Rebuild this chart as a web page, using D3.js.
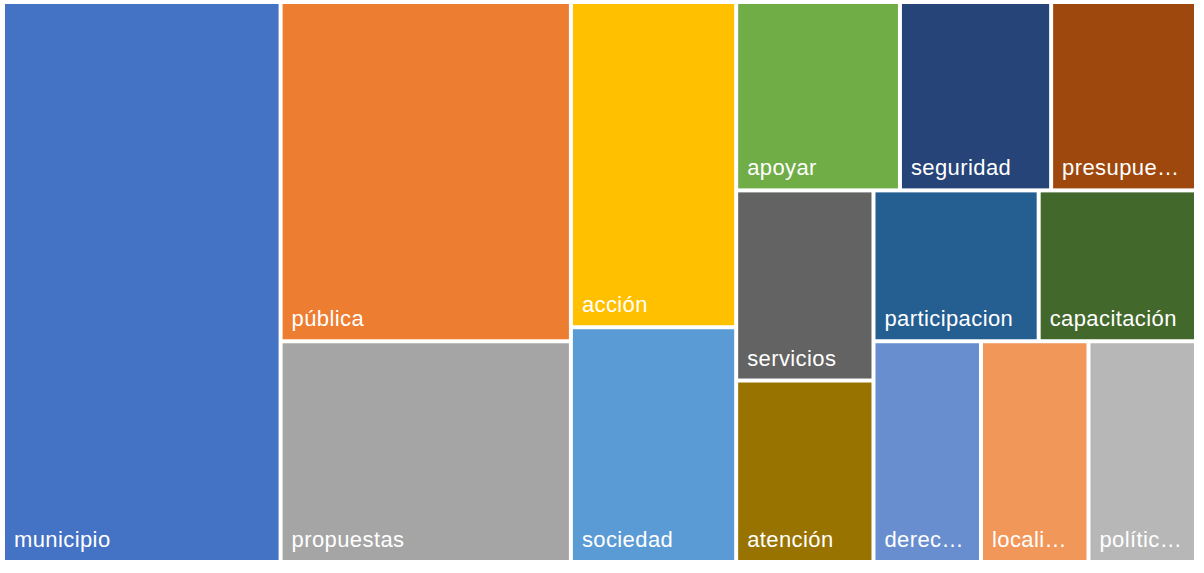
<!DOCTYPE html>
<html>
<head>
<meta charset="utf-8">
<script src="https://cdn.jsdelivr.net/npm/d3@7"></script>
<style>
  body { margin: 0; background: #fff; }
  .label { font-family: 'Liberation Sans', Arial, sans-serif; font-size: 22px; fill: #fff; letter-spacing: 0.4px; }
</style>
</head>
<body>
<div class="container"></div>
<script>
const categories = ['municipio', 'pública', 'propuestas', 'acción', 'sociedad', 'apoyar', 'seguridad', 'presupuesto',
  'servicios', 'atención', 'participacion', 'capacitación', 'derechos', 'localidad', 'políticas'];
const values = [131, 83, 54, 45.3, 32.7, 26, 24, 23, 22, 21, 21, 20, 20, 20, 20];
const colors = ['#4472C4', '#ED7D31', '#A5A5A5', '#FFC000', '#5B9BD5', '#70AD47', '#264478', '#9E480E',
  '#636363', '#997300', '#255E91', '#43682B', '#698ED0', '#F1975A', '#B7B7B7'];
// number of cells that go in each strip, in order
const strips = [1, 2, 2, 3, 2, 2, 3];

const width = 1204;
const height = 573;
const margin = { left: 5, top: 4 };
const chartWidth = 1189;
const chartHeight = 556;

// strips like squarify, last strip laid along the long side
const tileStrips = (parent, x0, y0, x1, y1) => {
  const nodes = parent.children;
  let value = parent.value;
  let i0 = 0;
  strips.forEach((n, k) => {
    const row = { children: nodes.slice(i0, i0 + n) };
    row.value = d3.sum(row.children, d => d.value);
    const dx = x1 - x0;
    const dy = y1 - y0;
    const last = k === strips.length - 1;
    const across = last ? dx >= dy : dx < dy;
    if (across) d3.treemapDice(row, x0, y0, x1, last ? y1 : (y0 += dy * row.value / value));
    else d3.treemapSlice(row, x0, y0, last ? x1 : (x0 += dx * row.value / value), y1);
    value -= row.value;
    i0 += n;
  });
};

const root = d3
  .hierarchy({ children: categories.map((c, i) => ({ name: c, value: values[i], color: colors[i] })) })
  .sum(d => d.value || 0);

d3.treemap()
  .tile(tileStrips)
  .size([chartWidth, chartHeight])
  .paddingInner(4)(root);

const svg = d3
  .select('.container')
  .append('svg')
  .attr('width', width)
  .attr('height', height);

const graph = svg.append('g').attr('transform', `translate(${margin.left}, ${margin.top})`);

const cells = graph
  .selectAll('g')
  .data(root.leaves())
  .enter()
  .append('g');

cells
  .append('rect')
  .attr('x', d => d.x0)
  .attr('y', d => d.y0)
  .attr('width', d => d.x1 - d.x0)
  .attr('height', d => d.y1 - d.y0)
  .attr('fill', d => d.data.color);

cells
  .append('text')
  .attr('class', 'label')
  .attr('x', d => d.x0 + 9)
  .attr('y', d => d.y1 - 13)
  .text(d => d.data.name)
  .each(function(d) {
    const max = d.x1 - d.x0 - 20;
    if (this.getComputedTextLength() <= max) return;
    let s = d.data.name;
    while (s.length > 1) {
      s = s.slice(0, -1);
      d3.select(this).text(s + '…');
      if (this.getComputedTextLength() <= max) break;
    }
  });
</script>
</body>
</html>
